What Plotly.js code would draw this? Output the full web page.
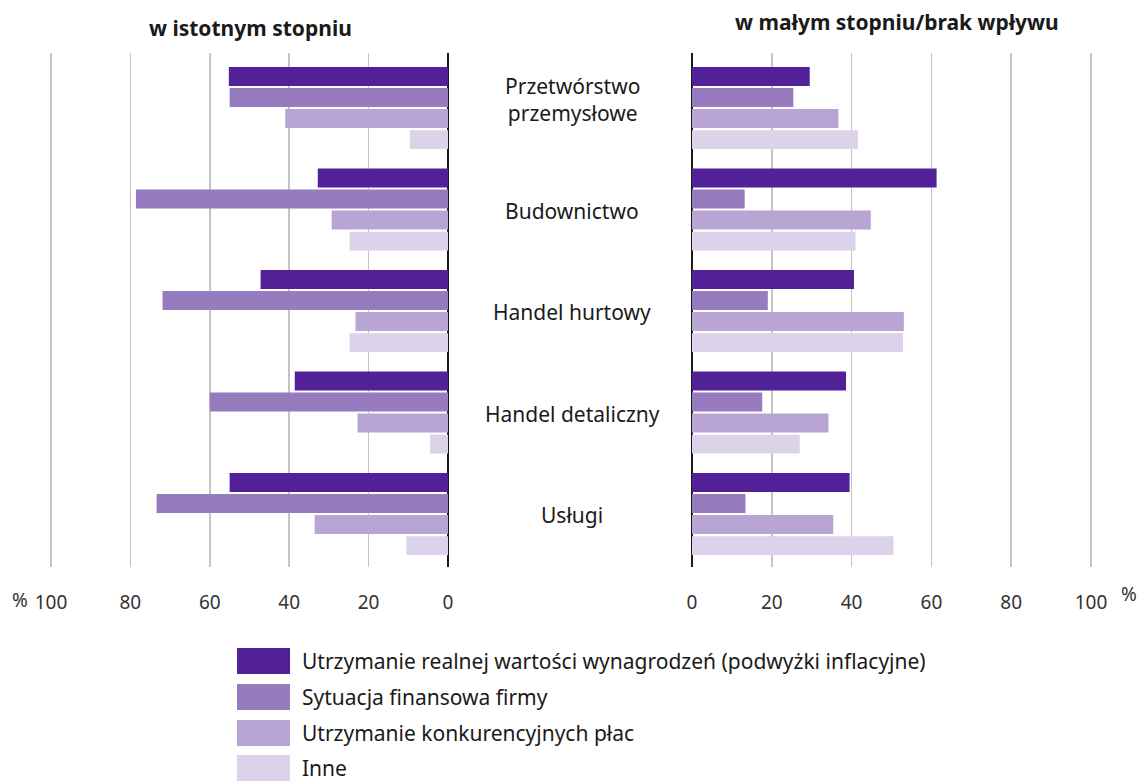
<!DOCTYPE html>
<html><head><meta charset="utf-8">
<script src="https://cdn.plot.ly/plotly-3.0.1.min.js"></script>
<style>html,body{margin:0;padding:0;background:#fff}</style>
</head><body>
<div id="chart" style="width:1141px;height:783px"></div>
<script>
const categories = ["Przetwórstwo przemysłowe","Budownictwo","Handel hurtowy","Handel detaliczny","Usługi"];
const categoryLabels = ["Przetwórstwo<br>przemysłowe","Budownictwo","Handel hurtowy","Handel detaliczny","Usługi"];
const seriesNames = ["Utrzymanie realnej wartości wynagrodzeń (podwyżki inflacyjne)","Sytuacja finansowa firmy","Utrzymanie konkurencyjnych płac","Inne"];
const seriesColors = ["#522197","#967bbf","#b9a5d4","#dcd2ea"];
// w istotnym stopniu (left panel)
const leftWages = [55.2, 32.8, 47.2, 38.6, 55.0];
const leftFinance = [55.0, 78.6, 71.9, 60.0, 73.4];
const leftCompetitive = [41.0, 29.3, 23.3, 22.8, 33.6];
const leftOther = [9.6, 24.8, 24.8, 4.5, 10.5];
// w małym stopniu / brak wpływu (right panel)
const rightWages = [29.5, 61.3, 40.6, 38.6, 39.5];
const rightFinance = [25.4, 13.2, 19.0, 17.6, 13.4];
const rightCompetitive = [36.7, 44.8, 53.1, 34.2, 35.4];
const rightOther = [41.6, 41.0, 52.9, 27.0, 50.5];
const xTicks = [0, 20, 40, 60, 80, 100];
const leftTitle = "w istotnym stopniu";
const rightTitle = "w małym stopniu/brak wpływu";

const leftSeries = [leftWages, leftFinance, leftCompetitive, leftOther];
const rightSeries = [rightWages, rightFinance, rightCompetitive, rightOther];

const W = 1141, H = 783, mL = 47, mR = 46, mT = 53, mB = 216;
const pw = W - mL - mR, ph = H - mT - mB;
const px = x => (x - mL) / pw;
const py = y => (H - mB - y) / ph;

const traces = [];
seriesNames.forEach((n, i) => {
  traces.push({type:'bar', orientation:'h', name:n, x:leftSeries[i], y:categories,
    xaxis:'x', yaxis:'y', marker:{color:seriesColors[i]}, showlegend:false, hoverinfo:'x+y'});
});
seriesNames.forEach((n, i) => {
  traces.push({type:'bar', orientation:'h', name:n, x:rightSeries[i], y:categories,
    xaxis:'x2', yaxis:'y2', marker:{color:seriesColors[i]}, showlegend:false, hoverinfo:'x+y'});
});

const font = "'Noto Sans', 'Open Sans', sans-serif";
const axisCommon = {
  tickvals: xTicks, ticktext: xTicks.map(String),
  showgrid: true, gridcolor: '#c4c4c4', gridwidth: 1.5,
  zeroline: true, zerolinecolor: '#1a1a1a', zerolinewidth: 1.5,
  showline: false, ticks: 'outside', ticklen: 18, tickcolor: 'rgba(0,0,0,0)',
  tickfont: {family: font, size: 19, color: '#333'}, fixedrange: true
};
const yRange = [4.522, -0.542];
const yCommon = {type:'category', range: yRange, showticklabels:false, showgrid:false, zeroline:false, showline:false, ticks:'', fixedrange:true};

const annotations = [];
annotations.push({xref:'paper', yref:'paper', x:px(250), y:py(28), text:'<b>'+leftTitle+'</b>', showarrow:false,
  font:{family:font, size:21, color:'#1a1a1a'}, xanchor:'center', yanchor:'middle'});
annotations.push({xref:'paper', yref:'paper', x:px(897), y:py(22), text:'<b>'+rightTitle+'</b>', showarrow:false,
  font:{family:font, size:21, color:'#1a1a1a'}, xanchor:'center', yanchor:'middle'});
annotations.push({xref:'paper', yref:'paper', x:px(20), y:py(600), text:'%', showarrow:false,
  font:{family:font, size:19, color:'#333'}, xanchor:'center', yanchor:'middle'});
annotations.push({xref:'paper', yref:'paper', x:px(1129), y:py(594), text:'%', showarrow:false,
  font:{family:font, size:19, color:'#333'}, xanchor:'center', yanchor:'middle'});
categories.forEach((c, i) => {
  annotations.push({xref:'paper', yref:'y', x:px(572), y:c, yshift: i===0 ? 9 : -1, text:categoryLabels[i], showarrow:false,
    font:{family:font, size:21, color:'#1a1a1a'}, xanchor:'center', yanchor:'middle'});
});

const shapes = [];
const rowTop = [648, 684, 720, 755];
seriesNames.forEach((n, i) => {
  shapes.push({type:'rect', xref:'paper', yref:'paper', x0:px(237), x1:px(290), y0:py(rowTop[i]), y1:py(rowTop[i]+26),
    fillcolor: seriesColors[i], line:{width:0}});
  annotations.push({xref:'paper', yref:'paper', x:px(300), y:py(rowTop[i]+13), text:n, showarrow:false,
    font:{family:font, size:21, color:'#1a1a1a'}, xanchor:'left', yanchor:'middle'});
});

const layout = {
  width: W, height: H,
  margin: {l:mL, r:mR, t:mT, b:mB, pad:0},
  paper_bgcolor:'#fff', plot_bgcolor:'#fff',
  barmode:'group', bargap:0.17, bargroupgap:0.1,
  xaxis: Object.assign({}, axisCommon, {domain:[0, px(448)], range:[101, 0], anchor:'y'}),
  xaxis2: Object.assign({}, axisCommon, {domain:[px(692), 1], range:[0, 101], anchor:'y2'}),
  yaxis: Object.assign({}, yCommon, {anchor:'x'}),
  yaxis2: Object.assign({}, yCommon, {anchor:'x2'}),
  annotations: annotations, shapes: shapes, showlegend:false
};
Plotly.newPlot('chart', traces, layout, {displayModeBar:false, staticPlot:true});
</script>
</body></html>
